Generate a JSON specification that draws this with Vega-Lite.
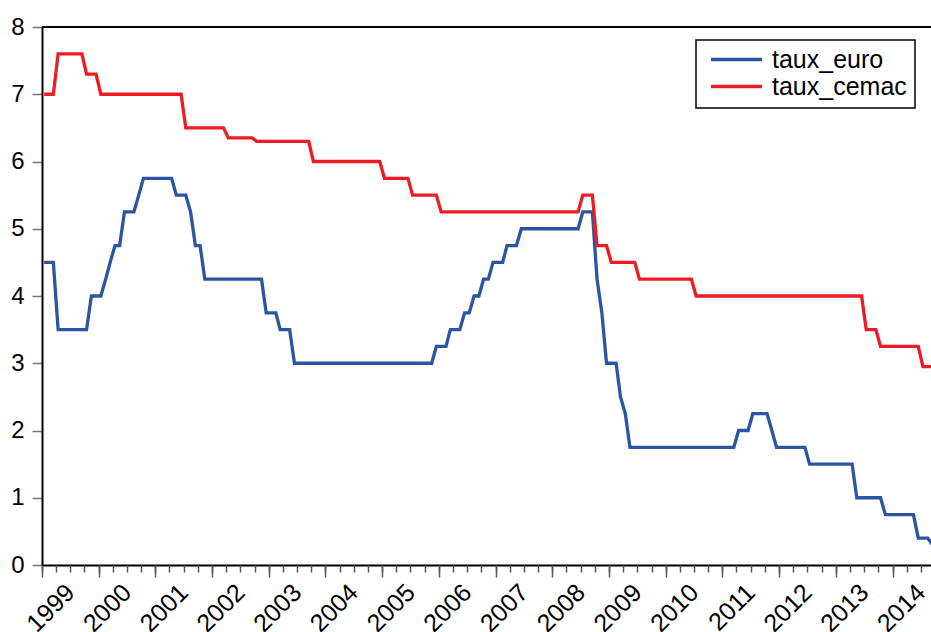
{
"$schema": "https://vega.github.io/schema/vega-lite/v6.json",
"width": 889, "height": 538,
"autosize": {"type": "none"},
"padding": {"left": 42, "top": 27, "right": 0, "bottom": 67},
"background": "white",
"config": {"view": {"stroke": null}, "font": "Liberation Sans", "legend": {"strokeWidth": 1.5}},
"data": {"values": [
{"date":"1999-01-15","taux_euro":4.5,"taux_cemac":7.0},
{"date":"1999-02-15","taux_euro":4.5,"taux_cemac":7.0},
{"date":"1999-03-15","taux_euro":4.5,"taux_cemac":7.0},
{"date":"1999-04-15","taux_euro":3.5,"taux_cemac":7.6},
{"date":"1999-05-15","taux_euro":3.5,"taux_cemac":7.6},
{"date":"1999-06-15","taux_euro":3.5,"taux_cemac":7.6},
{"date":"1999-07-15","taux_euro":3.5,"taux_cemac":7.6},
{"date":"1999-08-15","taux_euro":3.5,"taux_cemac":7.6},
{"date":"1999-09-15","taux_euro":3.5,"taux_cemac":7.6},
{"date":"1999-10-15","taux_euro":3.5,"taux_cemac":7.3},
{"date":"1999-11-15","taux_euro":4.0,"taux_cemac":7.3},
{"date":"1999-12-15","taux_euro":4.0,"taux_cemac":7.3},
{"date":"2000-01-15","taux_euro":4.0,"taux_cemac":7.0},
{"date":"2000-02-15","taux_euro":4.25,"taux_cemac":7.0},
{"date":"2000-03-15","taux_euro":4.5,"taux_cemac":7.0},
{"date":"2000-04-15","taux_euro":4.75,"taux_cemac":7.0},
{"date":"2000-05-15","taux_euro":4.75,"taux_cemac":7.0},
{"date":"2000-06-15","taux_euro":5.25,"taux_cemac":7.0},
{"date":"2000-07-15","taux_euro":5.25,"taux_cemac":7.0},
{"date":"2000-08-15","taux_euro":5.25,"taux_cemac":7.0},
{"date":"2000-09-15","taux_euro":5.5,"taux_cemac":7.0},
{"date":"2000-10-15","taux_euro":5.75,"taux_cemac":7.0},
{"date":"2000-11-15","taux_euro":5.75,"taux_cemac":7.0},
{"date":"2000-12-15","taux_euro":5.75,"taux_cemac":7.0},
{"date":"2001-01-15","taux_euro":5.75,"taux_cemac":7.0},
{"date":"2001-02-15","taux_euro":5.75,"taux_cemac":7.0},
{"date":"2001-03-15","taux_euro":5.75,"taux_cemac":7.0},
{"date":"2001-04-15","taux_euro":5.75,"taux_cemac":7.0},
{"date":"2001-05-15","taux_euro":5.5,"taux_cemac":7.0},
{"date":"2001-06-15","taux_euro":5.5,"taux_cemac":7.0},
{"date":"2001-07-15","taux_euro":5.5,"taux_cemac":6.5},
{"date":"2001-08-15","taux_euro":5.25,"taux_cemac":6.5},
{"date":"2001-09-15","taux_euro":4.75,"taux_cemac":6.5},
{"date":"2001-10-15","taux_euro":4.75,"taux_cemac":6.5},
{"date":"2001-11-15","taux_euro":4.25,"taux_cemac":6.5},
{"date":"2001-12-15","taux_euro":4.25,"taux_cemac":6.5},
{"date":"2002-01-15","taux_euro":4.25,"taux_cemac":6.5},
{"date":"2002-02-15","taux_euro":4.25,"taux_cemac":6.5},
{"date":"2002-03-15","taux_euro":4.25,"taux_cemac":6.5},
{"date":"2002-04-15","taux_euro":4.25,"taux_cemac":6.35},
{"date":"2002-05-15","taux_euro":4.25,"taux_cemac":6.35},
{"date":"2002-06-15","taux_euro":4.25,"taux_cemac":6.35},
{"date":"2002-07-15","taux_euro":4.25,"taux_cemac":6.35},
{"date":"2002-08-15","taux_euro":4.25,"taux_cemac":6.35},
{"date":"2002-09-15","taux_euro":4.25,"taux_cemac":6.35},
{"date":"2002-10-15","taux_euro":4.25,"taux_cemac":6.3},
{"date":"2002-11-15","taux_euro":4.25,"taux_cemac":6.3},
{"date":"2002-12-15","taux_euro":3.75,"taux_cemac":6.3},
{"date":"2003-01-15","taux_euro":3.75,"taux_cemac":6.3},
{"date":"2003-02-15","taux_euro":3.75,"taux_cemac":6.3},
{"date":"2003-03-15","taux_euro":3.5,"taux_cemac":6.3},
{"date":"2003-04-15","taux_euro":3.5,"taux_cemac":6.3},
{"date":"2003-05-15","taux_euro":3.5,"taux_cemac":6.3},
{"date":"2003-06-15","taux_euro":3.0,"taux_cemac":6.3},
{"date":"2003-07-15","taux_euro":3.0,"taux_cemac":6.3},
{"date":"2003-08-15","taux_euro":3.0,"taux_cemac":6.3},
{"date":"2003-09-15","taux_euro":3.0,"taux_cemac":6.3},
{"date":"2003-10-15","taux_euro":3.0,"taux_cemac":6.0},
{"date":"2003-11-15","taux_euro":3.0,"taux_cemac":6.0},
{"date":"2003-12-15","taux_euro":3.0,"taux_cemac":6.0},
{"date":"2004-01-15","taux_euro":3.0,"taux_cemac":6.0},
{"date":"2004-02-15","taux_euro":3.0,"taux_cemac":6.0},
{"date":"2004-03-15","taux_euro":3.0,"taux_cemac":6.0},
{"date":"2004-04-15","taux_euro":3.0,"taux_cemac":6.0},
{"date":"2004-05-15","taux_euro":3.0,"taux_cemac":6.0},
{"date":"2004-06-15","taux_euro":3.0,"taux_cemac":6.0},
{"date":"2004-07-15","taux_euro":3.0,"taux_cemac":6.0},
{"date":"2004-08-15","taux_euro":3.0,"taux_cemac":6.0},
{"date":"2004-09-15","taux_euro":3.0,"taux_cemac":6.0},
{"date":"2004-10-15","taux_euro":3.0,"taux_cemac":6.0},
{"date":"2004-11-15","taux_euro":3.0,"taux_cemac":6.0},
{"date":"2004-12-15","taux_euro":3.0,"taux_cemac":6.0},
{"date":"2005-01-15","taux_euro":3.0,"taux_cemac":5.75},
{"date":"2005-02-15","taux_euro":3.0,"taux_cemac":5.75},
{"date":"2005-03-15","taux_euro":3.0,"taux_cemac":5.75},
{"date":"2005-04-15","taux_euro":3.0,"taux_cemac":5.75},
{"date":"2005-05-15","taux_euro":3.0,"taux_cemac":5.75},
{"date":"2005-06-15","taux_euro":3.0,"taux_cemac":5.75},
{"date":"2005-07-15","taux_euro":3.0,"taux_cemac":5.5},
{"date":"2005-08-15","taux_euro":3.0,"taux_cemac":5.5},
{"date":"2005-09-15","taux_euro":3.0,"taux_cemac":5.5},
{"date":"2005-10-15","taux_euro":3.0,"taux_cemac":5.5},
{"date":"2005-11-15","taux_euro":3.0,"taux_cemac":5.5},
{"date":"2005-12-15","taux_euro":3.25,"taux_cemac":5.5},
{"date":"2006-01-15","taux_euro":3.25,"taux_cemac":5.25},
{"date":"2006-02-15","taux_euro":3.25,"taux_cemac":5.25},
{"date":"2006-03-15","taux_euro":3.5,"taux_cemac":5.25},
{"date":"2006-04-15","taux_euro":3.5,"taux_cemac":5.25},
{"date":"2006-05-15","taux_euro":3.5,"taux_cemac":5.25},
{"date":"2006-06-15","taux_euro":3.75,"taux_cemac":5.25},
{"date":"2006-07-15","taux_euro":3.75,"taux_cemac":5.25},
{"date":"2006-08-15","taux_euro":4.0,"taux_cemac":5.25},
{"date":"2006-09-15","taux_euro":4.0,"taux_cemac":5.25},
{"date":"2006-10-15","taux_euro":4.25,"taux_cemac":5.25},
{"date":"2006-11-15","taux_euro":4.25,"taux_cemac":5.25},
{"date":"2006-12-15","taux_euro":4.5,"taux_cemac":5.25},
{"date":"2007-01-15","taux_euro":4.5,"taux_cemac":5.25},
{"date":"2007-02-15","taux_euro":4.5,"taux_cemac":5.25},
{"date":"2007-03-15","taux_euro":4.75,"taux_cemac":5.25},
{"date":"2007-04-15","taux_euro":4.75,"taux_cemac":5.25},
{"date":"2007-05-15","taux_euro":4.75,"taux_cemac":5.25},
{"date":"2007-06-15","taux_euro":5.0,"taux_cemac":5.25},
{"date":"2007-07-15","taux_euro":5.0,"taux_cemac":5.25},
{"date":"2007-08-15","taux_euro":5.0,"taux_cemac":5.25},
{"date":"2007-09-15","taux_euro":5.0,"taux_cemac":5.25},
{"date":"2007-10-15","taux_euro":5.0,"taux_cemac":5.25},
{"date":"2007-11-15","taux_euro":5.0,"taux_cemac":5.25},
{"date":"2007-12-15","taux_euro":5.0,"taux_cemac":5.25},
{"date":"2008-01-15","taux_euro":5.0,"taux_cemac":5.25},
{"date":"2008-02-15","taux_euro":5.0,"taux_cemac":5.25},
{"date":"2008-03-15","taux_euro":5.0,"taux_cemac":5.25},
{"date":"2008-04-15","taux_euro":5.0,"taux_cemac":5.25},
{"date":"2008-05-15","taux_euro":5.0,"taux_cemac":5.25},
{"date":"2008-06-15","taux_euro":5.0,"taux_cemac":5.25},
{"date":"2008-07-15","taux_euro":5.25,"taux_cemac":5.5},
{"date":"2008-08-15","taux_euro":5.25,"taux_cemac":5.5},
{"date":"2008-09-15","taux_euro":5.25,"taux_cemac":5.5},
{"date":"2008-10-15","taux_euro":4.25,"taux_cemac":4.75},
{"date":"2008-11-15","taux_euro":3.75,"taux_cemac":4.75},
{"date":"2008-12-15","taux_euro":3.0,"taux_cemac":4.75},
{"date":"2009-01-15","taux_euro":3.0,"taux_cemac":4.5},
{"date":"2009-02-15","taux_euro":3.0,"taux_cemac":4.5},
{"date":"2009-03-15","taux_euro":2.5,"taux_cemac":4.5},
{"date":"2009-04-15","taux_euro":2.25,"taux_cemac":4.5},
{"date":"2009-05-15","taux_euro":1.75,"taux_cemac":4.5},
{"date":"2009-06-15","taux_euro":1.75,"taux_cemac":4.5},
{"date":"2009-07-15","taux_euro":1.75,"taux_cemac":4.25},
{"date":"2009-08-15","taux_euro":1.75,"taux_cemac":4.25},
{"date":"2009-09-15","taux_euro":1.75,"taux_cemac":4.25},
{"date":"2009-10-15","taux_euro":1.75,"taux_cemac":4.25},
{"date":"2009-11-15","taux_euro":1.75,"taux_cemac":4.25},
{"date":"2009-12-15","taux_euro":1.75,"taux_cemac":4.25},
{"date":"2010-01-15","taux_euro":1.75,"taux_cemac":4.25},
{"date":"2010-02-15","taux_euro":1.75,"taux_cemac":4.25},
{"date":"2010-03-15","taux_euro":1.75,"taux_cemac":4.25},
{"date":"2010-04-15","taux_euro":1.75,"taux_cemac":4.25},
{"date":"2010-05-15","taux_euro":1.75,"taux_cemac":4.25},
{"date":"2010-06-15","taux_euro":1.75,"taux_cemac":4.25},
{"date":"2010-07-15","taux_euro":1.75,"taux_cemac":4.0},
{"date":"2010-08-15","taux_euro":1.75,"taux_cemac":4.0},
{"date":"2010-09-15","taux_euro":1.75,"taux_cemac":4.0},
{"date":"2010-10-15","taux_euro":1.75,"taux_cemac":4.0},
{"date":"2010-11-15","taux_euro":1.75,"taux_cemac":4.0},
{"date":"2010-12-15","taux_euro":1.75,"taux_cemac":4.0},
{"date":"2011-01-15","taux_euro":1.75,"taux_cemac":4.0},
{"date":"2011-02-15","taux_euro":1.75,"taux_cemac":4.0},
{"date":"2011-03-15","taux_euro":1.75,"taux_cemac":4.0},
{"date":"2011-04-15","taux_euro":2.0,"taux_cemac":4.0},
{"date":"2011-05-15","taux_euro":2.0,"taux_cemac":4.0},
{"date":"2011-06-15","taux_euro":2.0,"taux_cemac":4.0},
{"date":"2011-07-15","taux_euro":2.25,"taux_cemac":4.0},
{"date":"2011-08-15","taux_euro":2.25,"taux_cemac":4.0},
{"date":"2011-09-15","taux_euro":2.25,"taux_cemac":4.0},
{"date":"2011-10-15","taux_euro":2.25,"taux_cemac":4.0},
{"date":"2011-11-15","taux_euro":2.0,"taux_cemac":4.0},
{"date":"2011-12-15","taux_euro":1.75,"taux_cemac":4.0},
{"date":"2012-01-15","taux_euro":1.75,"taux_cemac":4.0},
{"date":"2012-02-15","taux_euro":1.75,"taux_cemac":4.0},
{"date":"2012-03-15","taux_euro":1.75,"taux_cemac":4.0},
{"date":"2012-04-15","taux_euro":1.75,"taux_cemac":4.0},
{"date":"2012-05-15","taux_euro":1.75,"taux_cemac":4.0},
{"date":"2012-06-15","taux_euro":1.75,"taux_cemac":4.0},
{"date":"2012-07-15","taux_euro":1.5,"taux_cemac":4.0},
{"date":"2012-08-15","taux_euro":1.5,"taux_cemac":4.0},
{"date":"2012-09-15","taux_euro":1.5,"taux_cemac":4.0},
{"date":"2012-10-15","taux_euro":1.5,"taux_cemac":4.0},
{"date":"2012-11-15","taux_euro":1.5,"taux_cemac":4.0},
{"date":"2012-12-15","taux_euro":1.5,"taux_cemac":4.0},
{"date":"2013-01-15","taux_euro":1.5,"taux_cemac":4.0},
{"date":"2013-02-15","taux_euro":1.5,"taux_cemac":4.0},
{"date":"2013-03-15","taux_euro":1.5,"taux_cemac":4.0},
{"date":"2013-04-15","taux_euro":1.5,"taux_cemac":4.0},
{"date":"2013-05-15","taux_euro":1.0,"taux_cemac":4.0},
{"date":"2013-06-15","taux_euro":1.0,"taux_cemac":4.0},
{"date":"2013-07-15","taux_euro":1.0,"taux_cemac":3.5},
{"date":"2013-08-15","taux_euro":1.0,"taux_cemac":3.5},
{"date":"2013-09-15","taux_euro":1.0,"taux_cemac":3.5},
{"date":"2013-10-15","taux_euro":1.0,"taux_cemac":3.25},
{"date":"2013-11-15","taux_euro":0.75,"taux_cemac":3.25},
{"date":"2013-12-15","taux_euro":0.75,"taux_cemac":3.25},
{"date":"2014-01-15","taux_euro":0.75,"taux_cemac":3.25},
{"date":"2014-02-15","taux_euro":0.75,"taux_cemac":3.25},
{"date":"2014-03-15","taux_euro":0.75,"taux_cemac":3.25},
{"date":"2014-04-15","taux_euro":0.75,"taux_cemac":3.25},
{"date":"2014-05-15","taux_euro":0.75,"taux_cemac":3.25},
{"date":"2014-06-15","taux_euro":0.4,"taux_cemac":3.25},
{"date":"2014-07-15","taux_euro":0.4,"taux_cemac":2.95},
{"date":"2014-08-15","taux_euro":0.4,"taux_cemac":2.95},
{"date":"2014-09-15","taux_euro":0.3,"taux_cemac":2.95}
]},
"transform": [{"fold": ["taux_euro", "taux_cemac"], "as": ["serie", "valeur"]}],
"layer": [
 {"mark": {"type": "line", "strokeWidth": 3.3, "clip": true},
  "encoding": {
   "x": {"field": "date", "type": "temporal",
    "scale": {"type": "utc", "domain": [{"year": 1999, "month": 1, "date": 1, "utc": true}, {"year": 2014, "month": 9, "date": 5, "utc": true}], "nice": false},
    "axis": {"orient": "bottom", "tickCount": {"interval": "year", "step": 1}, "format": "%Y", "labelAngle": -45, "labelAlign": "right", "labelBaseline": "middle", "labelOffset": 28, "labelPadding": 11, "tickSize": 12, "tickColor": "#555555", "tickWidth": 1.5, "domainColor": "black", "domainWidth": 2, "labelFontSize": 25, "labelColor": "black", "labelOverlap": false, "labelFlush": false, "labelBound": false, "grid": false, "title": null}},
   "y": {"field": "valeur", "type": "quantitative",
    "scale": {"domain": [0, 8], "nice": false},
    "axis": {"tickCount": 8, "tickSize": 10, "tickColor": "#777777", "tickWidth": 1.5, "domainColor": "black", "domainWidth": 2, "labelFontSize": 24, "labelColor": "black", "labelPadding": 8, "grid": false, "title": null}},
   "color": {"field": "serie", "type": "nominal",
    "scale": {"domain": ["taux_euro", "taux_cemac"], "range": ["#2B55A3", "#ED1C24"]},
    "legend": {"orient": "none", "legendX": 654, "legendY": 13, "title": null, "symbolType": "stroke", "symbolSize": 2601, "symbolStrokeWidth": 3.3, "symbolOffset": 5, "clipHeight": 23, "labelFontSize": 25, "labelColor": "black", "labelOffset": 8, "padding": 8, "rowPadding": 1, "strokeColor": "black", "fillColor": "white"}}
  }},
 {"mark": {"type": "point", "opacity": 0},
  "encoding": {
   "x": {"field": "date", "type": "temporal",
    "axis": {"orient": "bottom", "tickCount": {"interval": "month", "step": 3}, "labels": false, "domain": false, "tickSize": 7, "tickColor": "#555555", "tickWidth": 1.5, "grid": false, "title": null}},
   "y": {"field": "valeur", "type": "quantitative"}
  }},
 {"data": {"values": [{}]},
  "mark": {"type": "rule", "color": "black", "strokeWidth": 2},
  "encoding": {"y": {"datum": 8}}}
],
"resolve": {"axis": {"x": "independent"}}
}
